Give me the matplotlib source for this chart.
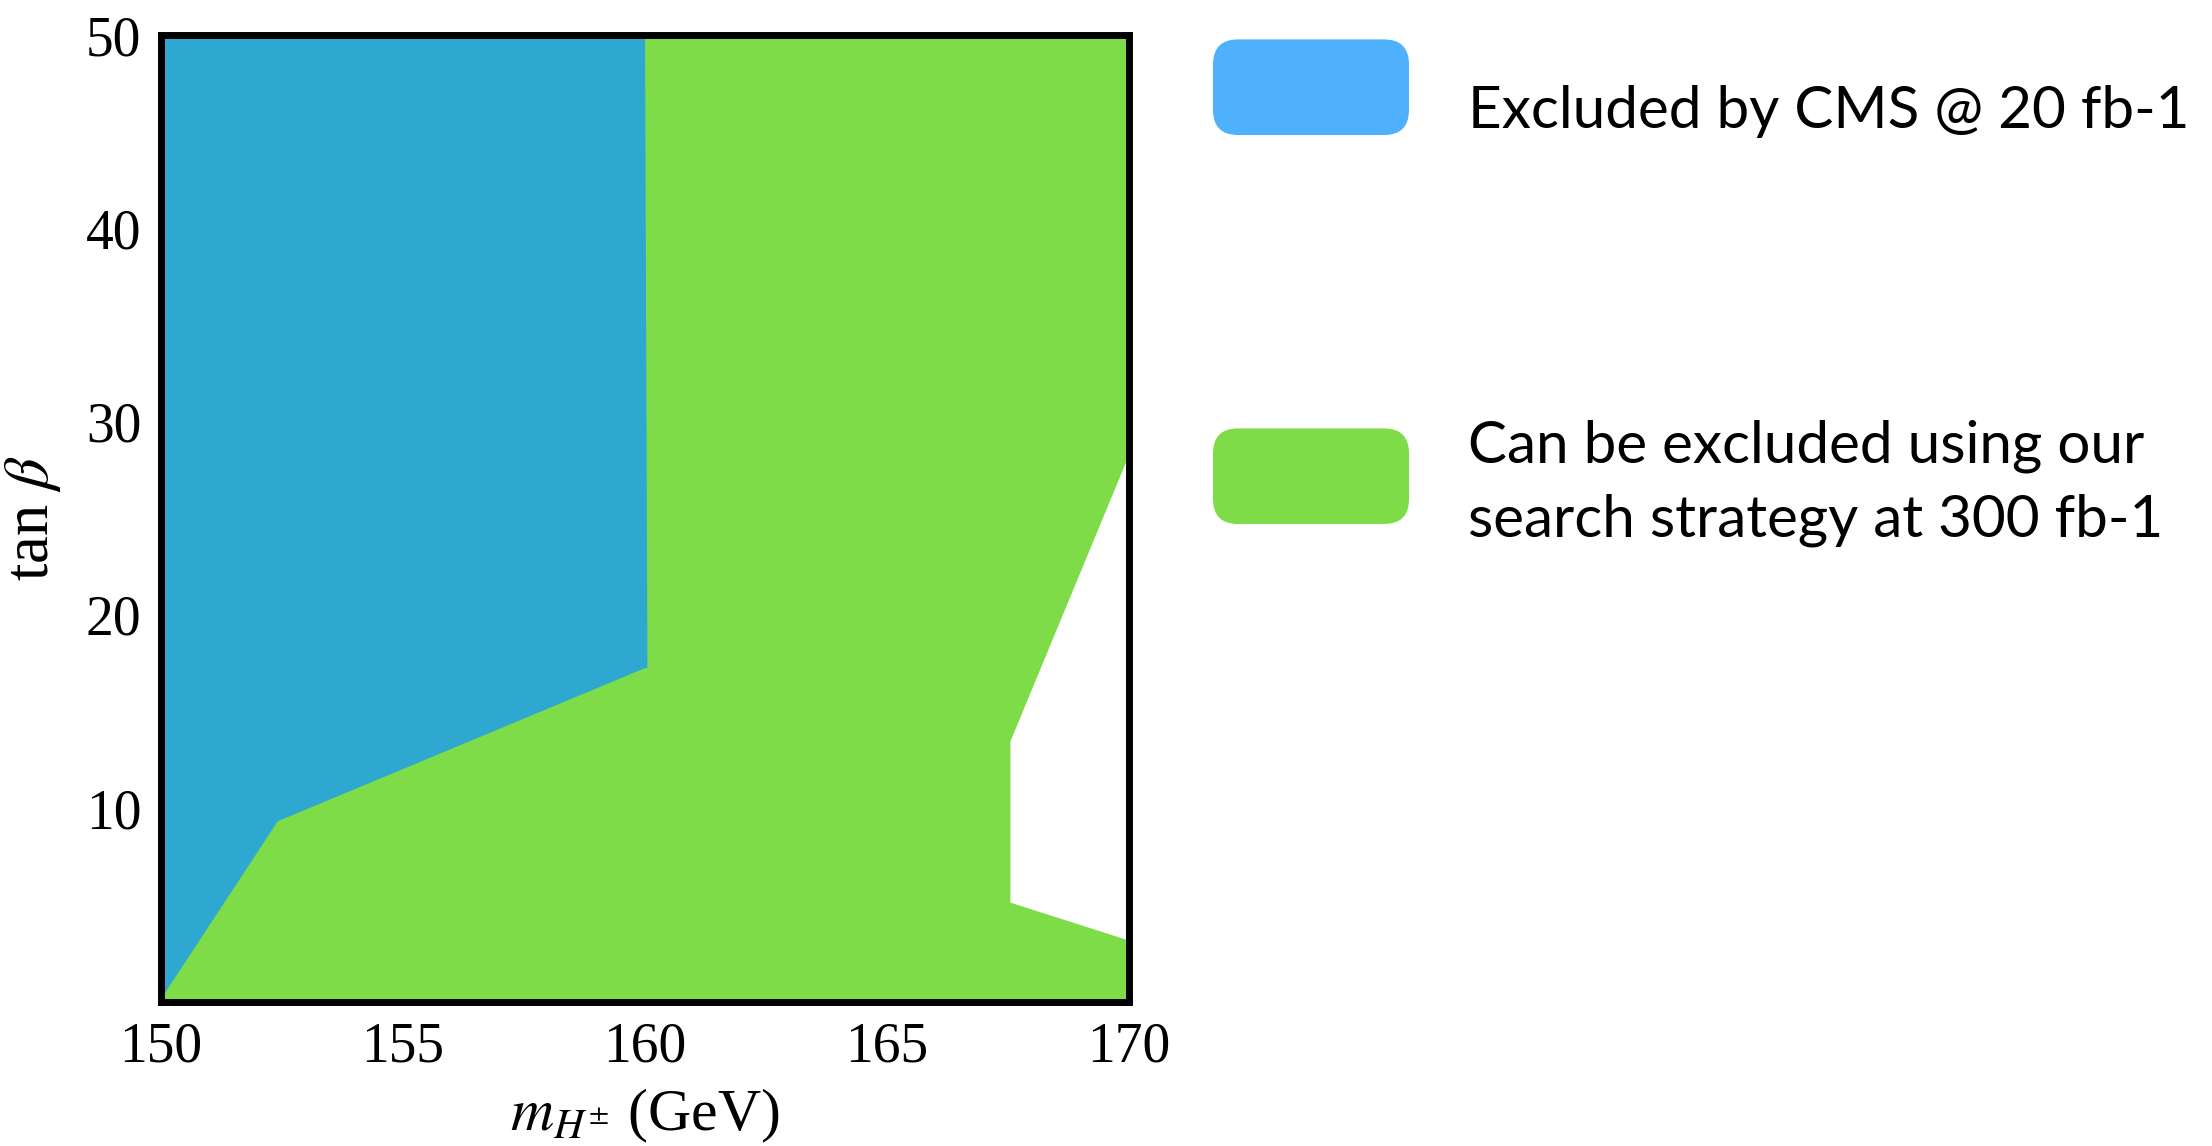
import matplotlib
matplotlib.use("Agg")
import matplotlib.pyplot as plt
from matplotlib.patches import FancyBboxPatch

plt.rcParams["mathtext.fontset"] = "stix"
plt.rcParams["font.family"] = ["Liberation Serif", "DejaVu Serif"]

# CMS exclusion boundary (m_H+, tan beta)
cms_mass = [150.0, 152.42, 160.04, 159.99, 150.0]
cms_tanb = [0.1, 9.33, 17.29, 50.0, 50.0]

# reach of the search strategy: white notch on the right edge
reach_mass = [170.0, 167.55, 167.55, 170.0]
reach_tanb = [3.16, 5.12, 13.45, 28.27]

x_ticks = [150, 155, 160, 165, 170]
y_ticks = [10, 20, 30, 40, 50]

legend_lines = [
    ["Excluded by CMS @ 20 fb-1"],
    ["Can be excluded using our", "search strategy at 300 fb-1"],
]

blue = "#2ea8d0"
green = "#7ddc47"
blue_key = "#4fb1fc"

fig = plt.figure(figsize=(22.12, 11.46), dpi=100)
ax = fig.add_axes([0.0726, 0.126, 0.4378, 0.8434])

# green area = whole plane minus the white notch
g_x = [150.0, 170.0] + reach_mass + [170.0, 150.0]
g_y = [0.0, 0.0] + reach_tanb + [50.0, 50.0]
ax.fill(g_x, g_y, color=green, lw=0)
ax.fill(cms_mass, cms_tanb, color=blue, lw=0)
ax.plot(cms_mass[2:4], cms_tanb[2:4], color=blue, lw=1)

ax.set_xlim(150, 170)
ax.set_ylim(0, 50)
ax.set_xticks(x_ticks)
ax.set_yticks(y_ticks)
ax.tick_params(length=0, labelsize=40, pad=14)
for s in ax.spines.values():
    s.set_linewidth(5)
    s.set_color("black")

ax.set_xlabel(r"$m_{H^{\pm}}$ (GeV)", fontsize=43, labelpad=10)
ax.set_ylabel(r"tan $\beta$", fontsize=45, labelpad=16)

# legend on the right (keys placed in inches)
key_y = [10.11, 6.22]
colors = [blue_key, green]
baselines = [[0.8883], [0.596, 0.532]]
for ky, c, lines, bl in zip(key_y, colors, legend_lines, baselines):
    box = FancyBboxPatch((12.13, ky), 1.96, 0.956,
                         boxstyle="round,pad=0.0,rounding_size=0.25",
                         transform=fig.dpi_scale_trans, facecolor=c,
                         edgecolor="none")
    fig.patches.append(box)
    for txt, y in zip(lines, bl):
        fig.text(0.6637, y, txt, fontsize=42, va="baseline", ha="left",
                 family=["Lato", "DejaVu Sans"])

fig.savefig("out.png", dpi=100)
